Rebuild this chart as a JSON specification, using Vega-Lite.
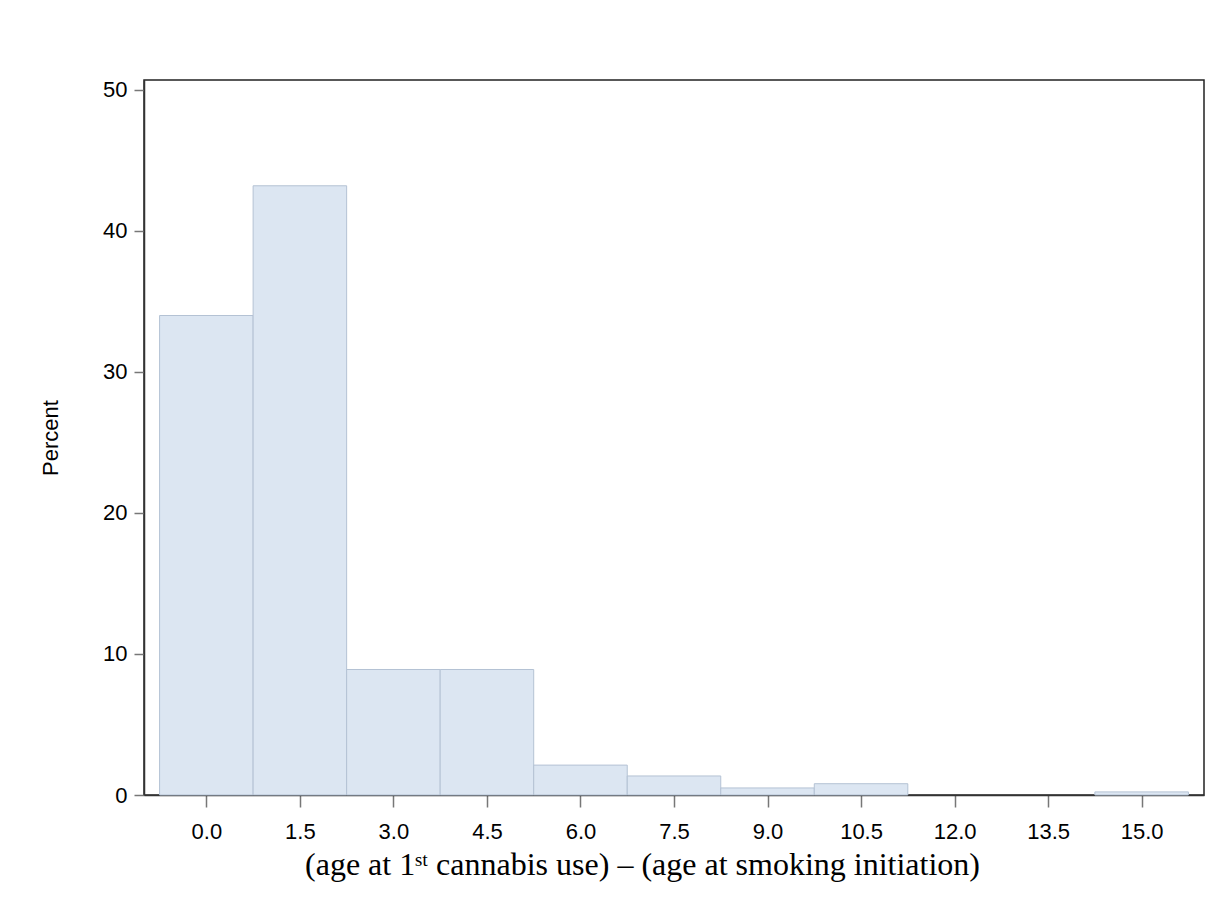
{
  "$schema": "https://vega.github.io/schema/vega-lite/v6.json",
  "autosize": {"type": "none"},
  "padding": {"left": 144, "top": 80, "right": 16, "bottom": 119},
  "width": 1060,
  "height": 715,
  "background": "white",
  "data": {"values": [
    {"start": -0.75, "end": 0.75, "percent": 34.0},
    {"start": 0.75, "end": 2.25, "percent": 43.2},
    {"start": 2.25, "end": 3.75, "percent": 8.9},
    {"start": 3.75, "end": 5.25, "percent": 8.9},
    {"start": 5.25, "end": 6.75, "percent": 2.12},
    {"start": 6.75, "end": 8.25, "percent": 1.35},
    {"start": 8.25, "end": 9.75, "percent": 0.5},
    {"start": 9.75, "end": 11.25, "percent": 0.8},
    {"start": 14.25, "end": 15.75, "percent": 0.22}
  ]},
  "mark": {"type": "rect", "fill": "#dce6f2", "stroke": "#b4c2d4", "strokeWidth": 1},
  "encoding": {
    "x": {
      "field": "start", "type": "quantitative",
      "scale": {"domain": [-1, 16], "nice": false, "zero": false},
      "axis": {
        "values": [0, 1.5, 3, 4.5, 6, 7.5, 9, 10.5, 12, 13.5, 15],
        "format": ".1f",
        "grid": false,
        "domainColor": "#333333", "domainWidth": 1.5,
        "tickColor": "#777777", "tickSize": 12, "tickWidth": 1.5,
        "labelFont": "Liberation Sans", "labelFontSize": 22, "labelColor": "#000000",
        "labelPadding": 14,
        "title": "(age at 1ˢᵗ cannabis use) – (age at smoking initiation)",
        "titleFont": "Liberation Serif", "titleFontSize": 32, "titleFontWeight": "normal",
        "titleColor": "#000000", "titlePadding": 7, "titleX": 498
      }
    },
    "x2": {"field": "end"},
    "y": {
      "field": "percent", "type": "quantitative",
      "scale": {"domain": [0, 50.7], "nice": false},
      "axis": {
        "values": [0, 10, 20, 30, 40, 50],
        "grid": false,
        "domainColor": "#333333", "domainWidth": 1.5,
        "tickColor": "#777777", "tickSize": 10, "tickWidth": 1.5,
        "labelFont": "Liberation Sans", "labelFontSize": 22, "labelColor": "#000000",
        "labelPadding": 7,
        "title": "Percent",
        "titleFont": "Liberation Sans", "titleFontSize": 22, "titleFontWeight": "normal",
        "titleColor": "#000000", "titlePadding": 40
      }
    },
    "y2": {"datum": 0}
  },
  "config": {
    "view": {"stroke": "#222222", "strokeWidth": 1.5}
  }
}
